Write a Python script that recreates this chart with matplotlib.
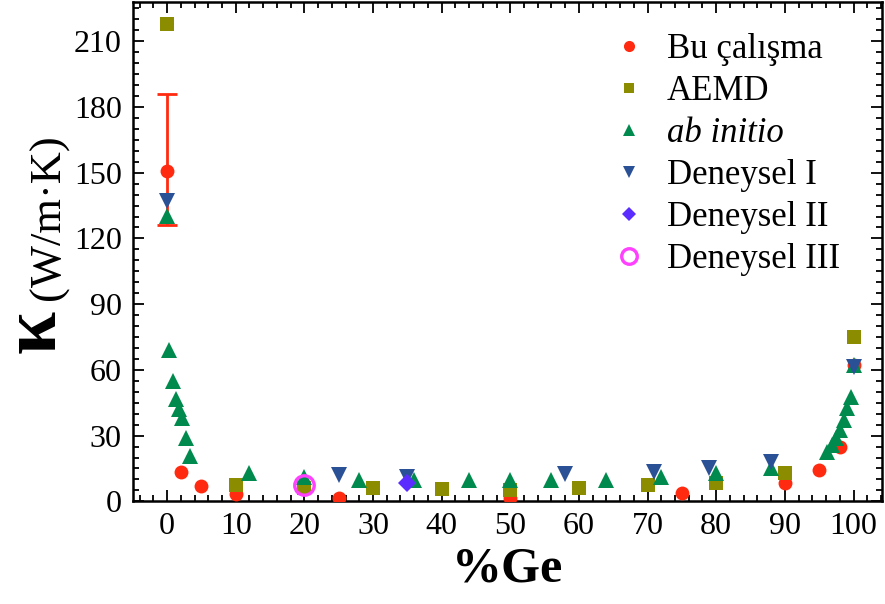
"""Thermal conductivity of SiGe vs Ge fraction."""

import numpy as np
import matplotlib
matplotlib.use("Agg")
import matplotlib.pyplot as plt
from matplotlib.ticker import MultipleLocator

plt.rcParams["font.family"] = ["Liberation Serif", "DejaVu Serif"]

# ── data ─────────────────────────────────────────────────────────────────────
bu_ge = [0, 2, 5, 10, 25, 50, 75, 90, 95, 98, 100]
bu_k = [151, 13.4, 7.0, 3.5, 1.5, 1.5, 3.8, 8.3, 14.1, 24.7, 62]
# only the pure-Si point carries an error bar
bu_err_ge = [0]
bu_err_k = [151]
bu_err_lo = [25]
bu_err_hi = [35]

aemd_ge = [0, 10, 20, 30, 40, 50, 60, 70, 80, 90, 100]
aemd_k = [218, 7.3, 6.3, 6.1, 5.8, 5.0, 6.3, 7.3, 8.3, 13, 75]

abi_ge = [0, 0.3, 0.8, 1.3, 1.7, 2.2, 2.8, 3.3, 12, 20, 28, 36, 44, 50, 56,
          64, 72, 80, 88, 96.2, 96.9, 97.5, 98.1, 98.6, 99.1, 99.6, 100]
abi_k = [130.4, 69, 54.9, 46.7, 42, 38, 29, 20.7, 12.7, 11.1, 9.6, 9.6, 9.6,
         9.6, 9.6, 9.6, 11.1, 12.7, 15, 22.6, 25.6, 28.7, 32.5, 37, 42.4,
         47.4, 62]

exp1_ge = [0, 25, 35, 58, 71, 79, 88, 100]
exp1_k = [137, 11.9, 11.1, 12.4, 13.4, 15, 18, 61.5]

exp2_ge = [35]
exp2_k = [8.3]

exp3_ge = [20]
exp3_k = [7.3]

fig = plt.figure(figsize=(8.85, 6.04), dpi=100)
ax = fig.add_axes([0.150, 0.170, 0.847, 0.827])

# ── series ───────────────────────────────────────────────────────────────────
ax.errorbar(bu_err_ge, bu_err_k, yerr=[bu_err_lo, bu_err_hi], fmt="none",
            ecolor="#ff2a0f", elinewidth=2, capsize=7, capthick=2, zorder=2)
ax.plot(bu_ge, bu_k, "o", color="#ff2a0f", ms=10, mew=0,
        label="Bu çalışma", zorder=3)
ax.plot(aemd_ge, aemd_k, "s", color="#8c8c00", ms=9.5, mew=0,
        label="AEMD", zorder=4)
ax.plot(abi_ge, abi_k, "^", color="#008a4e", ms=11.5, mew=0,
        label="ab initio", zorder=5)
ax.plot(exp1_ge, exp1_k, "v", color="#2a5096", ms=11.5, mew=0,
        label="Deneysel I", zorder=6)
ax.plot(exp2_ge, exp2_k, "D", color="#5a2cff", ms=9, mew=0,
        label="Deneysel II", zorder=7)
ax.plot(exp3_ge, exp3_k, "o", mfc="none", mec="#ff40ff", ms=14, mew=2.4,
        label="Deneysel III", zorder=8)

# ── axes ─────────────────────────────────────────────────────────────────────
ax.set_xlim(-5, 104.2)
ax.set_ylim(0, 228)
ax.xaxis.set_major_locator(MultipleLocator(10))
ax.xaxis.set_minor_locator(MultipleLocator(2))
ax.yaxis.set_major_locator(MultipleLocator(30))
ax.yaxis.set_minor_locator(MultipleLocator(5))
ax.tick_params(which="both", direction="in", top=True, right=True,
               labelsize=23, width=1.3, colors="black")
ax.tick_params(which="major", length=8, pad=8)
ax.tick_params(which="minor", length=4)
for spine in ax.spines.values():
    spine.set_linewidth(1.8)

ax.set_xlabel("%Ge", fontsize=36, fontweight="bold", labelpad=4)

# y label: big bold kappa with the unit set lower, like a subscript
fig.text(0.041, 0.452, "κ", rotation=90, ha="center", va="center",
         fontsize=56, fontweight="bold")
fig.text(0.055, 0.640, "(W/m·K)", rotation=90, ha="center", va="center",
         fontsize=32)

leg = ax.legend(loc="upper right", bbox_to_anchor=(0.985, 1.0), frameon=False,
                fontsize=25, markerscale=0.8, handletextpad=0.5,
                labelspacing=0.26, handlelength=1.2, numpoints=1)
leg.get_texts()[2].set_fontstyle("italic")

fig.savefig("out.png", dpi=100)
